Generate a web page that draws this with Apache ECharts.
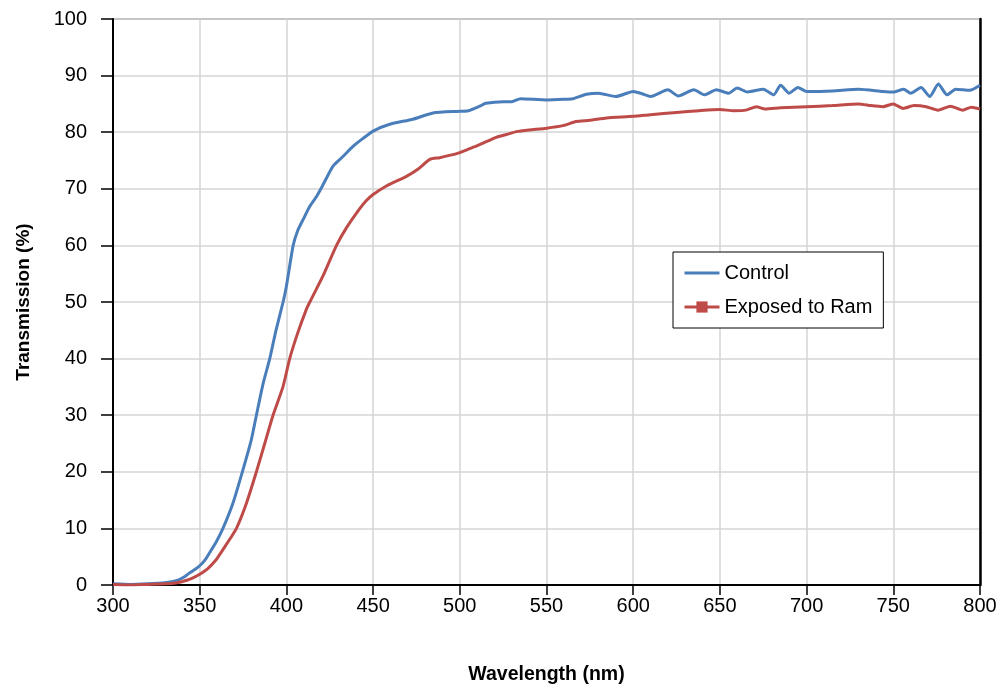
<!DOCTYPE html>
<html>
<head>
<meta charset="utf-8">
<script src="https://cdn.jsdelivr.net/npm/echarts@6/dist/echarts.min.js"></script>
<style>html,body{margin:0;padding:0;background:#fff}#c{width:1004px;height:691px}</style>
</head>
<body>
<div id="c"></div>
<script>
const controlX = [300,310,320,330,337,341,344,347,350,353,355.7,359.5,363.4,369.2,374.6,379.8,382.7,386.5,390.4,394,398.1,400,403.9,406.5,409.7,413.5,417.3,421.1,426.9,432.6,438.4,444.2,450,459.6,473,484.5,500,505,511.5,515,525,530,535,550,560,565,573,580,590,600,605,610,620,626,635,641,648,655,660,666,675,681,685,690,695,700,715,730,744,750,756,760,766,771,776,781,786,794,800];
const controlY = [0.2,0.1,0.2,0.4,0.8,1.4,2.1,2.7,3.4,4.4,5.7,7.6,10,14.5,20,25.7,30,35.5,40,45,50,52.8,60,62.6,64.6,66.9,68.6,70.7,74,75.7,77.5,78.9,80.2,81.4,82.3,83.4,83.7,83.8,84.6,85.1,85.4,85.4,85.9,85.7,85.8,85.9,86.7,86.9,86.3,87.2,86.8,86.3,87.5,86.4,87.5,86.6,87.5,86.9,87.8,87.1,87.6,86.6,88.3,86.9,87.9,87.2,87.3,87.6,87.2,87.1,87.6,86.9,87.9,86.3,88.5,86.6,87.6,87.4,88.3];
const exposedX = [300,310,320,330,337,341,344,347,350,355,359.6,362,365,368,371.2,377,382.7,387.5,392.3,398.1,401.9,406.5,411.5,413.5,421.1,428.9,434.6,442.3,446,450,457.7,469.2,476,482.7,488.4,494,500,505,511.5,521,527,532.6,540,550,560,567,575,584.6,600,610,625,638,650,658,665,671,676,685,700,715,730,737,744,750,755.6,762,769,775.8,783,790,795,800];
const exposedY = [0.1,0.0,0.1,0.2,0.4,0.7,1.0,1.4,1.9,3.0,4.5,5.6,7,8.4,10,14.5,20,25,30,35.1,40,44.5,48.7,50,54.6,60,63.1,66.5,67.9,69,70.5,72.2,73.5,75.2,75.5,75.9,76.4,77,77.8,79.1,79.6,80.1,80.4,80.7,81.2,81.9,82.1,82.5,82.8,83.1,83.5,83.8,84.0,83.8,83.9,84.5,84.1,84.3,84.5,84.7,85.0,84.7,84.5,85.0,84.2,84.7,84.5,83.9,84.6,83.9,84.4,84.1];
const seriesNames = ['Control', 'Exposed to Ram'];
const xTitle = 'Wavelength (nm)';
const yTitle = 'Transmission (%)';

const FONT = '"Liberation Sans", Arial, sans-serif';
const pair = (xs, ys) => xs.map((x, i) => [x, ys[i]]);

const chart = echarts.init(document.getElementById('c'), null, {renderer: 'canvas'});
chart.setOption({
  animation: false,
  backgroundColor: '#fff',
  grid: {left: 113, top: 19, right: 24, bottom: 106, show: true, borderColor: '#333', borderWidth: 1},
  legend: {
    orient: 'vertical', left: 673, top: 252,
    padding: [11, 11, 11, 10], itemGap: 14,
    itemWidth: 35, itemHeight: 14,
    backgroundColor: '#fff', borderColor: '#000', borderWidth: 1, borderRadius: 0,
    textStyle: {fontFamily: FONT, fontSize: 20, color: '#000'},
    data: [
      {name: seriesNames[0], itemStyle: {opacity: 0}, lineStyle: {width: 3}},
      {name: seriesNames[1], lineStyle: {width: 3}}
    ]
  },
  xAxis: {
    type: 'value', min: 300, max: 800, interval: 50,
    name: xTitle, nameLocation: 'middle', nameGap: 80,
    nameTextStyle: {fontFamily: FONT, fontSize: 19.5, fontWeight: 'bold', color: '#000'},
    axisLine: {onZero: false, lineStyle: {color: '#000', width: 2}},
    axisTick: {show: true, length: 10, lineStyle: {color: '#000', width: 1.5}},
    axisLabel: {fontFamily: FONT, fontSize: 20, color: '#000', margin: 11},
    splitLine: {show: true, lineStyle: {color: '#d4d4d4', width: 1.5}}
  },
  yAxis: [{
    type: 'value', min: 0, max: 100, interval: 10,
    name: yTitle, nameLocation: 'middle', nameGap: 80,
    nameTextStyle: {fontFamily: FONT, fontSize: 19, fontWeight: 'bold', color: '#000'},
    axisLine: {show: true, lineStyle: {color: '#000', width: 2}},
    axisTick: {show: true, length: 12, lineStyle: {color: '#000', width: 1.5}},
    axisLabel: {fontFamily: FONT, fontSize: 20, color: '#000', margin: 26},
    splitLine: {show: true, lineStyle: {color: '#d4d4d4', width: 1.5}}
  }, {
    type: 'value', min: 0, max: 100, interval: 10, position: 'right',
    axisLine: {show: true, lineStyle: {color: '#000', width: 2.5}},
    axisTick: {show: false}, axisLabel: {show: false}, splitLine: {show: false}
  }],
  series: [{
    name: seriesNames[0], type: 'line', data: pair(controlX, controlY),
    symbol: 'none', smooth: 0.2,
    lineStyle: {color: '#4a7ebb', width: 3}, itemStyle: {color: '#4a7ebb'}
  }, {
    name: seriesNames[1], type: 'line', data: pair(exposedX, exposedY),
    symbol: 'rect', symbolSize: 10, showSymbol: false, smooth: 0.2,
    lineStyle: {color: '#be4b48', width: 3}, itemStyle: {color: '#be4b48'}
  }]
});
</script>
</body>
</html>
